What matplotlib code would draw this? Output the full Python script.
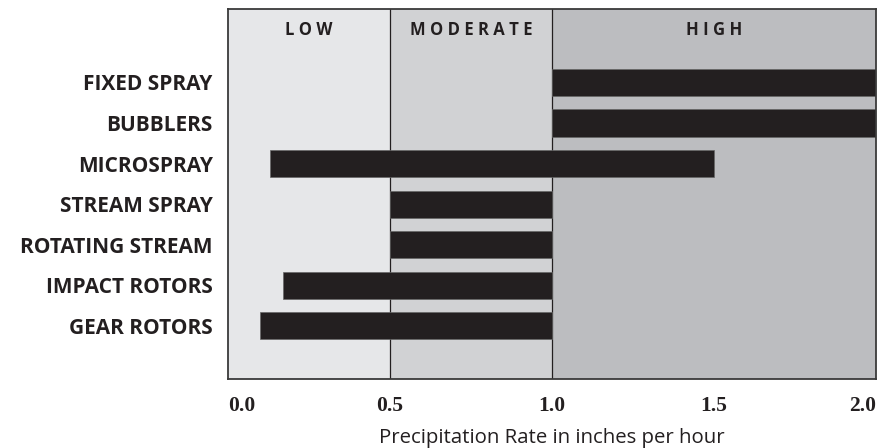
import matplotlib.pyplot as plt
import numpy as np

# -------------------------------
# data
# -------------------------------
categories = ["GEAR ROTORS", "IMPACT ROTORS", "ROTATING STREAM", "STREAM SPRAY",
              "MICROSPRAY", "BUBBLERS", "FIXED SPRAY"]
rate_low = [0.10, 0.17, 0.50, 0.50, 0.13, 1.00, 1.00]
rate_high = [1.00, 1.00, 1.00, 1.00, 1.50, 2.00, 2.00]

zone_names = ["LOW", "MODERATE", "HIGH"]
zone_edges = [0.0, 0.5, 1.0, 2.0]
zone_colors = ["#e6e7e9", "#d1d2d4", "#bcbdc0"]

xticks = [0.0, 0.5, 1.0, 1.5, 2.0]
xtick_labels = ["0.0", "0.5", "1.0", "1.5", "2.0"]

# -------------------------------
# figure
# -------------------------------
fig = plt.figure(figsize=(8.78, 4.48), dpi=100)
ax = fig.add_axes([228 / 878, (448 - 379) / 448, (876 - 228) / 878, (379 - 9) / 448])

# background zones
for i, name in enumerate(zone_names):
    ax.axvspan(zone_edges[i], zone_edges[i + 1], color=zone_colors[i], zorder=0, lw=0)
    ax.text((zone_edges[i] + zone_edges[i + 1]) / 2, 7.3, " ".join(name),
            ha="center", va="center", fontsize=12, fontweight="bold",
            family=["Open Sans", "DejaVu Sans"], color="#231f20")

for x in zone_edges[1:3]:
    ax.axvline(x, color="#231f20", lw=0.9, zorder=1)

# bars
y = np.arange(len(categories))
widths = [h - l for l, h in zip(rate_low, rate_high)]
ax.barh(y, widths, left=rate_low, height=0.667, color="#231f20",
        edgecolor="#666666", linewidth=0.5, zorder=2)

ax.set_xlim(0, 2.0)
ax.set_ylim(-1.31, 7.81)

ax.set_yticks(y)
ax.set_yticklabels(categories, fontsize=15, fontweight="bold", family="Open Sans",
                   color="#231f20")
ax.tick_params(axis="y", length=0, pad=11)

ax.set_xticks(xticks)
ax.set_xticklabels(xtick_labels, fontsize=15.5, fontweight="bold",
                   family="Liberation Serif", color="#231f20")
ax.tick_params(axis="x", length=0, pad=12)
tl = ax.get_xticklabels()
tl[0].set_ha("left")
tl[-1].set_ha("right")

ax.set_xlabel("Precipitation Rate in inches per hour", fontsize=14.7,
              family="Open Sans", color="#231f20", labelpad=9)

for s in ax.spines.values():
    s.set_color("#3a3a3a")
    s.set_linewidth(1.3)

fig.savefig("out.png", dpi=100)
